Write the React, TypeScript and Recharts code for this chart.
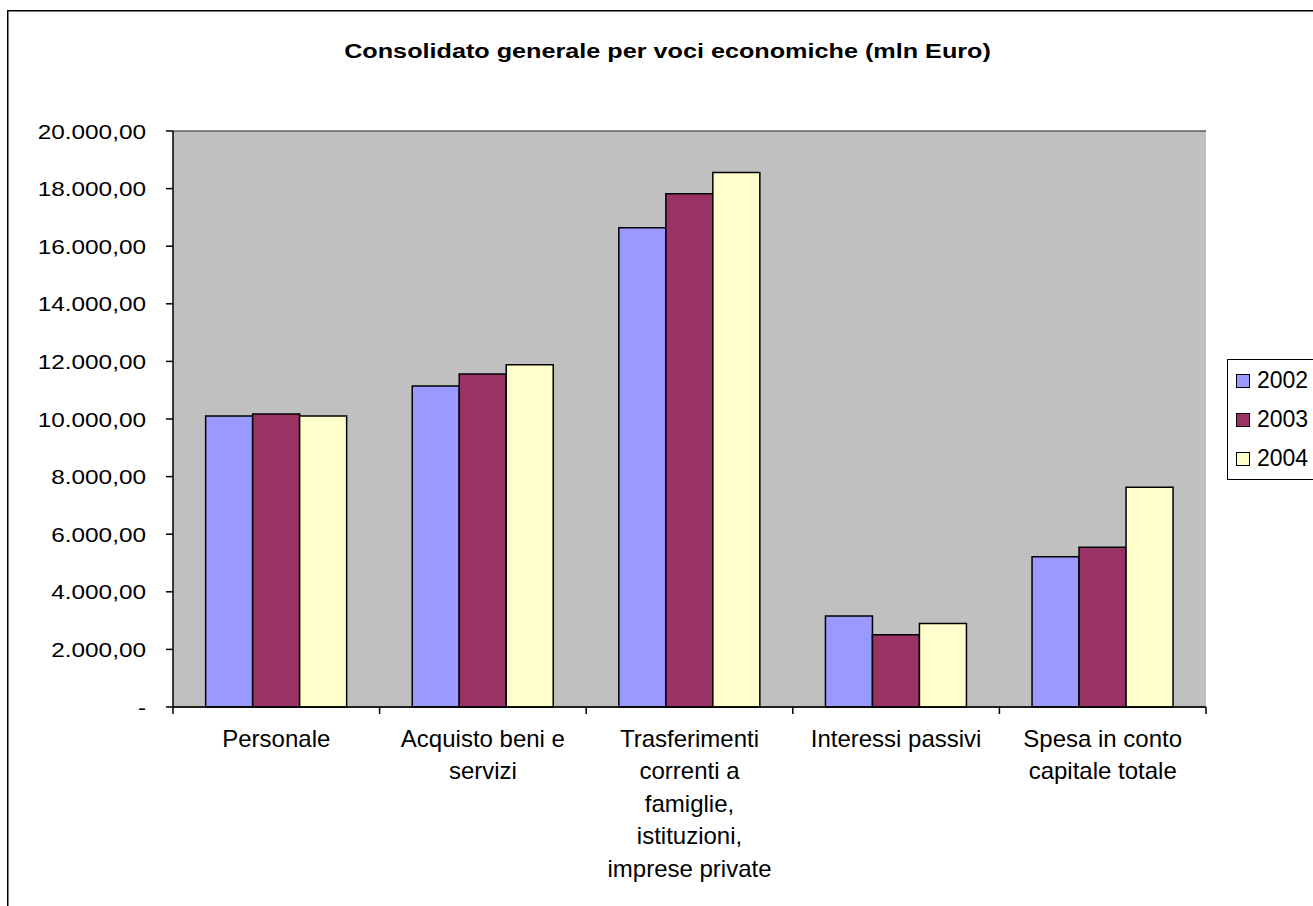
import React from "react";
import {
  BarChart, Bar, XAxis, YAxis, CartesianGrid, Legend,
} from "recharts";

const categories = [
  "Personale",
  "Acquisto beni e servizi",
  "Trasferimenti correnti a famiglie, istituzioni, imprese private",
  "Interessi passivi",
  "Spesa in conto capitale totale",
];

// wrapped tick labels, as in the original
const categoryLines = [
  ["Personale"],
  ["Acquisto beni e", "servizi"],
  ["Trasferimenti", "correnti a", "famiglie,", "istituzioni,", "imprese private"],
  ["Interessi passivi"],
  ["Spesa in conto", "capitale totale"],
];

const values2002 = [10100, 11150, 16640, 3160, 5220];
const values2003 = [10170, 11560, 17820, 2510, 5550];
const values2004 = [10100, 11880, 18560, 2900, 7630];

const yTicks = [0, 2000, 4000, 6000, 8000, 10000, 12000, 14000, 16000, 18000, 20000];

const series = [
  { key: "2002", color: "#9999FF" },
  { key: "2003", color: "#993366" },
  { key: "2004", color: "#FFFFCC" },
];

const data = categories.map((name, i) => ({
  name,
  "2002": values2002[i],
  "2003": values2003[i],
  "2004": values2004[i],
}));

const FONT = "'Liberation Sans', Arial, sans-serif";

const fmt = (v: number) =>
  v === 0 ? "-" : Math.round(v).toString().replace(/\B(?=(\d{3})+(?!\d))/g, ".") + ",00";

// the original's text is stretched sideways a little
// eslint-disable-next-line @typescript-eslint/no-explicit-any
const YTick = ({ x, y, payload }: any) => (
  <g transform={`translate(${x},${y}) scale(1.16,1)`}>
    <text x={0} y={7.5} textAnchor="end" fontFamily={FONT} fontSize={21} fill="#000">
      {fmt(payload.value)}
    </text>
  </g>
);

// labels plus Excel-style tick marks between categories
// eslint-disable-next-line @typescript-eslint/no-explicit-any
const CatTick = ({ x, y, index, width, visibleTicksCount }: any) => {
  const bw = width / visibleTicksCount;
  return (
    <g>
      <line x1={x - bw / 2} x2={x - bw / 2} y1={y} y2={y + 7} stroke="#000" strokeWidth={1.5} />
      {index === visibleTicksCount - 1 && (
        <line x1={x + bw / 2} x2={x + bw / 2} y1={y} y2={y + 7} stroke="#000" strokeWidth={1.5} />
      )}
      <text x={x} y={y} textAnchor="middle" fontFamily={FONT} fontSize={24} fill="#000">
        {(categoryLines[index] || []).map((l, i) => (
          <tspan key={i} x={x} y={y + 39.7 + i * 32.5}>{l}</tspan>
        ))}
      </text>
    </g>
  );
};

// eslint-disable-next-line @typescript-eslint/no-explicit-any
const LegendBox = ({ payload }: any) => (
  <div style={{
    border: "1.5px solid #000", background: "#fff", width: 120, padding: "1px 0 1px 8px",
    fontFamily: FONT, fontSize: 23, boxSizing: "border-box",
  }}>
    {/* eslint-disable-next-line @typescript-eslint/no-explicit-any */}
    {(payload || []).map((p: any) => (
      <div key={p.value} style={{ display: "flex", alignItems: "center", height: 39 }}>
        <div style={{ width: 12, height: 12, background: p.color, border: "1.5px solid #000", marginRight: 7 }} />
        <span>{p.value}</span>
      </div>
    ))}
  </div>
);

export default function App() {
  return (
    <div style={{ position: "fixed", left: 0, top: 0, width: 1313, height: 906, overflow: "hidden", background: "#fff" }}>
      <div style={{ position: "absolute", left: 0, top: 0 }}>
        <BarChart
          width={1313}
          height={906}
          data={data}
          margin={{ top: 131, right: 107, left: 23, bottom: 9 }}
          barCategoryGap="15.8%"
          barGap={0}
        >
          <CartesianGrid vertical={false} stroke="#5f5f5f" strokeWidth={1.5} fill="#C0C0C0" fillOpacity={1} />
          <XAxis
            dataKey="name"
            height={190}
            interval={0}
            tickSize={0}
            tickMargin={0}
            tickLine={false}
            axisLine={{ stroke: "#000", strokeWidth: 1.5 }}
            tick={<CatTick />}
          />
          <YAxis
            yAxisId="left"
            width={150}
            domain={[0, 20000]}
            ticks={yTicks}
            interval={0}
            tickSize={7}
            tickMargin={20}
            tick={<YTick />}
            tickLine={{ stroke: "#000", strokeWidth: 1.5 }}
            axisLine={{ stroke: "#000", strokeWidth: 1.5 }}
          />
          <YAxis
            yAxisId="right"
            orientation="right"
            width={0}
            domain={[0, 20000]}
            tick={false}
            tickLine={false}
            axisLine={{ stroke: "#808080", strokeWidth: 1.5 }}
          />
          <Legend
            layout="vertical"
            align="center"
            verticalAlign="middle"
            content={<LegendBox />}
            wrapperStyle={{ position: "absolute", left: 1227, top: 359, width: 120 }}
          />
          {series.map(s => (
            <Bar
              key={s.key}
              dataKey={s.key}
              yAxisId="left"
              fill={s.color}
              stroke="#000"
              strokeWidth={1.5}
              isAnimationActive={false}
            />
          ))}
        </BarChart>
      </div>
      <svg width={1313} height={906} style={{ position: "absolute", left: 0, top: 0, pointerEvents: "none" }}>
        <path d="M7.75 906 V10.75 H1313" fill="none" stroke="#000" strokeWidth={1.5} />
        <g transform="translate(667.5,58) scale(1.2,1)">
          <text x={0} y={0} textAnchor="middle" fontFamily={FONT} fontWeight="bold" fontSize={21} fill="#000">
            Consolidato generale per voci economiche (mln Euro)
          </text>
        </g>
      </svg>
    </div>
  );
}
